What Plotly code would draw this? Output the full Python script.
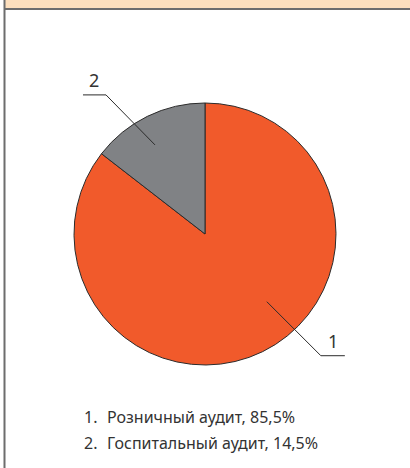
import math
import plotly.graph_objects as go

# Chart data
categories = ["Розничный аудит", "Госпитальный аудит"]
shares = [85.5, 14.5]
slice_numbers = ["1", "2"]
slice_colors = ["#F15A2B", "#808285"]

W, H = 410, 468
CX, CY, R = 205, 234, 131          # pie centre and radius in pixels
FONT = "Noto Sans"
TEXT = "#333333"


def px(x):
    return x / W


def py(y):
    return 1 - y / H


fig = go.Figure(go.Pie(
    labels=categories,
    values=shares,
    sort=False,
    direction="clockwise",
    rotation=0,
    marker=dict(colors=slice_colors, line=dict(color="#2b2b2b", width=1)),
    textinfo="none",
    hoverinfo="label+percent",
    showlegend=False,
    domain=dict(x=[px(CX - R), px(CX + R)], y=[py(CY + R), py(CY - R)]),
))

shapes = [
    # header band and frame
    dict(type="rect", xref="paper", yref="paper", x0=px(4), x1=1, y0=py(8), y1=1,
         fillcolor="#FDDFBD", line=dict(width=0), layer="below"),
    dict(type="line", xref="paper", yref="paper", x0=px(4), x1=1, y0=py(9), y1=py(9),
         line=dict(color="#6d6d6d", width=2)),
    dict(type="line", xref="paper", yref="paper", x0=px(4.5), x1=px(4.5), y0=0, y1=1,
         line=dict(color="#6d6d6d", width=2)),
]
annotations = []

# leader lines: anchor angle (deg clockwise from 12 o'clock), radius fraction,
# elbow offset in px and horizontal tail length (signed)
leaders = {
    "1": dict(angle=137.6, frac=0.70, dx=54, dy=54, tail=24),
    "2": dict(angle=-29.3, frac=0.78, dx=-49, dy=-50, tail=-23),
}
for num in slice_numbers:
    ld = leaders[num]
    a = math.radians(ld["angle"])
    sx = CX + R * ld["frac"] * math.sin(a)
    sy = CY - R * ld["frac"] * math.cos(a)
    ex, ey = sx + ld["dx"], sy + ld["dy"]
    tx = ex + ld["tail"]
    shapes.append(dict(type="line", xref="paper", yref="paper",
                       x0=px(sx), y0=py(sy), x1=px(ex), y1=py(ey),
                       line=dict(color="#2b2b2b", width=1)))
    shapes.append(dict(type="line", xref="paper", yref="paper",
                       x0=px(ex), y0=py(ey), x1=px(tx), y1=py(ey),
                       line=dict(color="#2b2b2b", width=1)))
    annotations.append(dict(xref="paper", yref="paper", x=px((ex + tx) / 2),
                            y=py(ey - 1), xanchor="center", yanchor="bottom",
                            text=num, showarrow=False,
                            font=dict(family=FONT, size=18, color=TEXT)))

# numbered key below the pie
for i, (num, cat, val) in enumerate(zip(slice_numbers, categories, shares)):
    yc = 417 + i * 26
    annotations.append(dict(xref="paper", yref="paper", x=px(82), y=py(yc),
                            xanchor="left", yanchor="middle", text=num + ".",
                            showarrow=False,
                            font=dict(family=FONT, size=16, color=TEXT)))
    label = f"{cat}, {val:.1f}%".replace(".", ",")
    annotations.append(dict(xref="paper", yref="paper", x=px(105), y=py(yc),
                            xanchor="left", yanchor="middle", text=label,
                            showarrow=False,
                            font=dict(family=FONT, size=16, color=TEXT)))

fig.update_layout(
    width=W, height=H,
    margin=dict(l=0, r=0, t=0, b=0),
    paper_bgcolor="white",
    plot_bgcolor="white",
    shapes=shapes,
    annotations=annotations,
)

fig.write_html("out.html")
